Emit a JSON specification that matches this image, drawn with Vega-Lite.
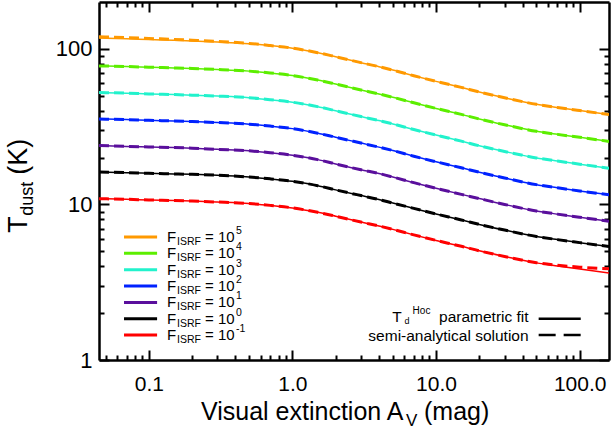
{
"$schema": "https://vega.github.io/schema/vega-lite/v6.json",
"width": 510, "height": 358,
"autosize": {"type": "none"},
"padding": {"left": 99, "top": 2, "right": 4, "bottom": 74},
"background": "white",
"config": {
  "view": {"stroke": null},
  "font": "Liberation Sans",
  "axis": {"grid": false, "domainColor": "black", "domainWidth": 2.5, "tickColor": "black", "tickWidth": 2, "labelColor": "black", "labelFont": "Liberation Sans", "labelFontSize": 21, "labelOverlap": false, "labelFlush": false, "labelBound": false}
},
"datasets": {
  "curves": [
    {"F":"1e5","av":0.045,"fit":117.2,"semi":119.6},{"F":"1e5","av":0.07,"fit":116.0,"semi":118.2},{"F":"1e5","av":0.1,"fit":114.7,"semi":116.6},{"F":"1e5","av":0.15,"fit":113.5,"semi":115.0},{"F":"1e5","av":0.2,"fit":112.5,"semi":113.6},{"F":"1e5","av":0.3,"fit":110.8,"semi":111.6},{"F":"1e5","av":0.5,"fit":108.0,"semi":108.4},{"F":"1e5","av":0.7,"fit":105.0,"semi":105.0},{"F":"1e5","av":1,"fit":101.0,"semi":101.0},{"F":"1e5","av":1.5,"fit":94.5,"semi":94.5},{"F":"1e5","av":2,"fit":89.0,"semi":89.0},{"F":"1e5","av":3,"fit":81.5,"semi":81.5},{"F":"1e5","av":4,"fit":76.8,"semi":76.8},{"F":"1e5","av":5,"fit":73.0,"semi":73.0},{"F":"1e5","av":7,"fit":67.2,"semi":67.2},{"F":"1e5","av":10,"fit":61.8,"semi":61.8},{"F":"1e5","av":15,"fit":56.5,"semi":56.5},{"F":"1e5","av":20,"fit":52.8,"semi":52.8},{"F":"1e5","av":30,"fit":48.5,"semi":48.5},{"F":"1e5","av":50,"fit":44.0,"semi":44.0},{"F":"1e5","av":70,"fit":42.0,"semi":42.0},{"F":"1e5","av":100,"fit":40.1,"semi":40.1},{"F":"1e5","av":160,"fit":37.8,"semi":37.8},
    {"F":"1e4","av":0.045,"fit":77.7,"semi":77.7},{"F":"1e4","av":0.07,"fit":77.0,"semi":77.0},{"F":"1e4","av":0.1,"fit":76.2,"semi":76.2},{"F":"1e4","av":0.15,"fit":75.4,"semi":75.4},{"F":"1e4","av":0.2,"fit":74.8,"semi":74.8},{"F":"1e4","av":0.3,"fit":73.7,"semi":73.7},{"F":"1e4","av":0.5,"fit":71.9,"semi":71.9},{"F":"1e4","av":0.7,"fit":70.0,"semi":70.0},{"F":"1e4","av":1,"fit":67.3,"semi":67.3},{"F":"1e4","av":1.5,"fit":63.0,"semi":63.0},{"F":"1e4","av":2,"fit":59.4,"semi":59.4},{"F":"1e4","av":3,"fit":54.4,"semi":54.4},{"F":"1e4","av":4,"fit":51.3,"semi":51.3},{"F":"1e4","av":5,"fit":48.8,"semi":48.8},{"F":"1e4","av":7,"fit":45.0,"semi":45.0},{"F":"1e4","av":10,"fit":41.4,"semi":41.4},{"F":"1e4","av":15,"fit":37.9,"semi":37.9},{"F":"1e4","av":20,"fit":35.4,"semi":35.4},{"F":"1e4","av":30,"fit":32.5,"semi":32.5},{"F":"1e4","av":50,"fit":29.5,"semi":29.5},{"F":"1e4","av":70,"fit":28.2,"semi":28.2},{"F":"1e4","av":100,"fit":27.0,"semi":27.0},{"F":"1e4","av":160,"fit":25.4,"semi":25.4},
    {"F":"1e3","av":0.045,"fit":52.4,"semi":52.4},{"F":"1e3","av":0.07,"fit":51.9,"semi":51.9},{"F":"1e3","av":0.1,"fit":51.3,"semi":51.3},{"F":"1e3","av":0.15,"fit":50.8,"semi":50.8},{"F":"1e3","av":0.2,"fit":50.4,"semi":50.4},{"F":"1e3","av":0.3,"fit":49.7,"semi":49.7},{"F":"1e3","av":0.5,"fit":48.5,"semi":48.5},{"F":"1e3","av":0.7,"fit":47.1,"semi":47.1},{"F":"1e3","av":1,"fit":45.4,"semi":45.4},{"F":"1e3","av":1.5,"fit":42.5,"semi":42.5},{"F":"1e3","av":2,"fit":40.0,"semi":40.0},{"F":"1e3","av":3,"fit":36.7,"semi":36.7},{"F":"1e3","av":4,"fit":34.6,"semi":34.6},{"F":"1e3","av":5,"fit":32.9,"semi":32.9},{"F":"1e3","av":7,"fit":30.3,"semi":30.3},{"F":"1e3","av":10,"fit":27.9,"semi":27.9},{"F":"1e3","av":15,"fit":25.5,"semi":25.5},{"F":"1e3","av":20,"fit":23.8,"semi":23.8},{"F":"1e3","av":30,"fit":21.9,"semi":21.9},{"F":"1e3","av":50,"fit":19.9,"semi":19.9},{"F":"1e3","av":70,"fit":19.0,"semi":19.0},{"F":"1e3","av":100,"fit":18.15,"semi":18.15},{"F":"1e3","av":160,"fit":17.1,"semi":17.1},
    {"F":"1e2","av":0.045,"fit":35.4,"semi":35.4},{"F":"1e2","av":0.07,"fit":35.1,"semi":35.1},{"F":"1e2","av":0.1,"fit":34.7,"semi":34.7},{"F":"1e2","av":0.15,"fit":34.4,"semi":34.4},{"F":"1e2","av":0.2,"fit":34.1,"semi":34.1},{"F":"1e2","av":0.3,"fit":33.6,"semi":33.6},{"F":"1e2","av":0.5,"fit":32.8,"semi":32.8},{"F":"1e2","av":0.7,"fit":31.9,"semi":31.9},{"F":"1e2","av":1,"fit":30.7,"semi":30.7},{"F":"1e2","av":1.5,"fit":28.7,"semi":28.7},{"F":"1e2","av":2,"fit":27.0,"semi":27.0},{"F":"1e2","av":3,"fit":24.8,"semi":24.8},{"F":"1e2","av":4,"fit":23.35,"semi":23.35},{"F":"1e2","av":5,"fit":22.2,"semi":22.2},{"F":"1e2","av":7,"fit":20.4,"semi":20.4},{"F":"1e2","av":10,"fit":18.8,"semi":18.8},{"F":"1e2","av":15,"fit":17.2,"semi":17.2},{"F":"1e2","av":20,"fit":16.1,"semi":16.1},{"F":"1e2","av":30,"fit":14.8,"semi":14.8},{"F":"1e2","av":50,"fit":13.4,"semi":13.4},{"F":"1e2","av":70,"fit":12.8,"semi":12.8},{"F":"1e2","av":100,"fit":12.2,"semi":12.2},{"F":"1e2","av":160,"fit":11.55,"semi":11.55},
    {"F":"1e1","av":0.045,"fit":23.9,"semi":23.9},{"F":"1e1","av":0.07,"fit":23.6,"semi":23.6},{"F":"1e1","av":0.1,"fit":23.4,"semi":23.4},{"F":"1e1","av":0.15,"fit":23.2,"semi":23.2},{"F":"1e1","av":0.2,"fit":23.0,"semi":23.0},{"F":"1e1","av":0.3,"fit":22.6,"semi":22.6},{"F":"1e1","av":0.5,"fit":22.1,"semi":22.1},{"F":"1e1","av":0.7,"fit":21.5,"semi":21.5},{"F":"1e1","av":1,"fit":20.7,"semi":20.7},{"F":"1e1","av":1.5,"fit":19.4,"semi":19.4},{"F":"1e1","av":2,"fit":18.2,"semi":18.2},{"F":"1e1","av":3,"fit":16.7,"semi":16.7},{"F":"1e1","av":4,"fit":15.8,"semi":15.8},{"F":"1e1","av":5,"fit":15.0,"semi":15.0},{"F":"1e1","av":7,"fit":13.8,"semi":13.8},{"F":"1e1","av":10,"fit":12.7,"semi":12.7},{"F":"1e1","av":15,"fit":11.6,"semi":11.6},{"F":"1e1","av":20,"fit":10.9,"semi":10.9},{"F":"1e1","av":30,"fit":10.0,"semi":10.0},{"F":"1e1","av":50,"fit":9.07,"semi":9.07},{"F":"1e1","av":70,"fit":8.66,"semi":8.66},{"F":"1e1","av":100,"fit":8.27,"semi":8.27},{"F":"1e1","av":160,"fit":7.8,"semi":7.8},
    {"F":"1e0","av":0.045,"fit":16.15,"semi":16.15},{"F":"1e0","av":0.07,"fit":16.0,"semi":16.0},{"F":"1e0","av":0.1,"fit":15.85,"semi":15.85},{"F":"1e0","av":0.15,"fit":15.7,"semi":15.7},{"F":"1e0","av":0.2,"fit":15.6,"semi":15.6},{"F":"1e0","av":0.3,"fit":15.4,"semi":15.4},{"F":"1e0","av":0.5,"fit":15.0,"semi":15.0},{"F":"1e0","av":0.7,"fit":14.6,"semi":14.6},{"F":"1e0","av":1,"fit":14.07,"semi":14.07},{"F":"1e0","av":1.5,"fit":13.2,"semi":13.2},{"F":"1e0","av":2,"fit":12.4,"semi":12.4},{"F":"1e0","av":3,"fit":11.4,"semi":11.4},{"F":"1e0","av":4,"fit":10.75,"semi":10.75},{"F":"1e0","av":5,"fit":10.2,"semi":10.2},{"F":"1e0","av":7,"fit":9.43,"semi":9.43},{"F":"1e0","av":10,"fit":8.68,"semi":8.68},{"F":"1e0","av":15,"fit":7.95,"semi":7.95},{"F":"1e0","av":20,"fit":7.44,"semi":7.44},{"F":"1e0","av":30,"fit":6.84,"semi":6.84},{"F":"1e0","av":50,"fit":6.22,"semi":6.22},{"F":"1e0","av":70,"fit":5.94,"semi":5.94},{"F":"1e0","av":100,"fit":5.68,"semi":5.68},{"F":"1e0","av":160,"fit":5.36,"semi":5.36},
    {"F":"1e-1","av":0.045,"fit":10.88,"semi":10.88},{"F":"1e-1","av":0.07,"fit":10.79,"semi":10.79},{"F":"1e-1","av":0.1,"fit":10.68,"semi":10.68},{"F":"1e-1","av":0.15,"fit":10.59,"semi":10.59},{"F":"1e-1","av":0.2,"fit":10.51,"semi":10.51},{"F":"1e-1","av":0.3,"fit":10.36,"semi":10.36},{"F":"1e-1","av":0.5,"fit":10.13,"semi":10.13},{"F":"1e-1","av":0.7,"fit":9.86,"semi":9.86},{"F":"1e-1","av":1,"fit":9.5,"semi":9.5},{"F":"1e-1","av":1.5,"fit":8.9,"semi":8.9},{"F":"1e-1","av":2,"fit":8.4,"semi":8.4},{"F":"1e-1","av":3,"fit":7.7,"semi":7.7},{"F":"1e-1","av":4,"fit":7.27,"semi":7.27},{"F":"1e-1","av":5,"fit":6.91,"semi":6.91},{"F":"1e-1","av":7,"fit":6.37,"semi":6.37},{"F":"1e-1","av":10,"fit":5.87,"semi":5.87},{"F":"1e-1","av":15,"fit":5.38,"semi":5.38},{"F":"1e-1","av":20,"fit":5.03,"semi":5.03},{"F":"1e-1","av":30,"fit":4.63,"semi":4.63},{"F":"1e-1","av":50,"fit":4.21,"semi":4.22},{"F":"1e-1","av":70,"fit":4.02,"semi":4.07},{"F":"1e-1","av":100,"fit":3.84,"semi":3.95},{"F":"1e-1","av":160,"fit":3.63,"semi":3.86}
  ],
  "leg": [
    {"F":"1e5","exp":"5"},{"F":"1e4","exp":"4"},{"F":"1e3","exp":"3"},{"F":"1e2","exp":"2"},{"F":"1e1","exp":"1"},{"F":"1e0","exp":"0"},{"F":"1e-1","exp":"-1"}
  ],
  "leg2": [
    {"F":"1e0","kind":"fit"},{"F":"1e-1","kind":"semi"}
  ]
},
"layer": [
  {
    "layer": [
      {
        "data": {"name": "curves"},
        "mark": {"type": "line", "strokeWidth": 1.5, "interpolate": "monotone", "clip": true},
        "encoding": {
          "x": {"field": "av", "type": "quantitative", "scale": {"type": "log", "domain": [0.045, 160], "nice": false},
                "axis": {"orient": "bottom", "title": null, "values": [0.05,0.06,0.07,0.08,0.09,0.1,0.2,0.3,0.4,0.5,0.6,0.7,0.8,0.9,1,2,3,4,5,6,7,8,9,10,20,30,40,50,60,70,80,90,100],
                         "labelExpr": "datum.value == 0.1 ? '0.1' : datum.value == 1 ? '1.0' : datum.value == 10 ? '10.0' : datum.value == 100 ? '100.0' : ''",
                         "tickSize": {"condition": {"test": "datum.value == 0.1 || datum.value == 1 || datum.value == 10 || datum.value == 100", "value": -10}, "value": -5},
                         "labelPadding": 23}},
          "y": {"field": "fit", "type": "quantitative", "scale": {"type": "log", "domain": [1, 200], "nice": false},
                "axis": {"orient": "left", "title": null, "values": [1,2,3,4,5,6,7,8,9,10,20,30,40,50,60,70,80,90,100],
                         "labelExpr": "datum.value == 1 ? '1' : datum.value == 10 ? '10' : datum.value == 100 ? '100' : ''",
                         "tickSize": {"condition": {"test": "datum.value == 1 || datum.value == 10 || datum.value == 100", "value": -10}, "value": -5},
                         "labelPadding": 17, "labelFontSize": 22}},
          "color": {"field": "F", "type": "nominal", "scale": {"domain": ["1e5","1e4","1e3","1e2","1e1","1e0","1e-1"], "range": ["#ff9900","#5cee00","#22f2cc","#0022ff","#5a0f9c","#000000","#ff0000"]}, "legend": null}
        }
      },
      {
        "data": {"name": "curves"},
        "mark": {"type": "line", "strokeWidth": 3, "strokeDash": [10, 5], "interpolate": "monotone", "clip": true},
        "encoding": {
          "x": {"field": "av", "type": "quantitative", "scale": {"type": "log", "domain": [0.045, 160], "nice": false},
                "axis": {"orient": "top", "title": null, "labels": false, "values": [0.05,0.06,0.07,0.08,0.09,0.1,0.2,0.3,0.4,0.5,0.6,0.7,0.8,0.9,1,2,3,4,5,6,7,8,9,10,20,30,40,50,60,70,80,90,100],
                         "tickSize": {"condition": {"test": "datum.value == 0.1 || datum.value == 1 || datum.value == 10 || datum.value == 100", "value": -10}, "value": -5}}},
          "y": {"field": "semi", "type": "quantitative", "scale": {"type": "log", "domain": [1, 200], "nice": false},
                "axis": {"orient": "right", "title": null, "labels": false, "values": [1,2,3,4,5,6,7,8,9,10,20,30,40,50,60,70,80,90,100],
                         "tickSize": {"condition": {"test": "datum.value == 1 || datum.value == 10 || datum.value == 100", "value": -10}, "value": -5}}},
          "color": {"field": "F", "type": "nominal", "legend": null}
        }
      },
      {
        "data": {"values": [{}]},
        "mark": {"type": "text", "text": "Visual extinction A", "align": "left", "baseline": "alphabetic", "fontSize": 25, "color": "black"},
        "encoding": {"x": {"datum": 0.2309, "type": "quantitative", "axis": null}, "y": {"datum": 0.4114, "type": "quantitative", "axis": null}}
      },
      {
        "data": {"values": [{}]},
        "mark": {"type": "text", "text": "V", "align": "left", "baseline": "alphabetic", "fontSize": 17, "dx": 205, "dy": 6, "color": "black"},
        "encoding": {"x": {"datum": 0.2309, "type": "quantitative", "axis": null}, "y": {"datum": 0.4114, "type": "quantitative", "axis": null}}
      },
      {
        "data": {"values": [{}]},
        "mark": {"type": "text", "text": "(mag)", "align": "left", "baseline": "alphabetic", "fontSize": 25, "dx": 223, "color": "black"},
        "encoding": {"x": {"datum": 0.2309, "type": "quantitative", "axis": null}, "y": {"datum": 0.4114, "type": "quantitative", "axis": null}}
      },
      {
        "data": {"values": [{}]},
        "mark": {"type": "text", "text": "T", "align": "left", "baseline": "alphabetic", "angle": 270, "fontSize": 27, "color": "black"},
        "encoding": {"x": {"datum": 0.01416, "type": "quantitative", "axis": null}, "y": {"datum": 6.57, "type": "quantitative", "axis": null}}
      },
      {
        "data": {"values": [{}]},
        "mark": {"type": "text", "text": "dust", "align": "left", "baseline": "alphabetic", "angle": 270, "fontSize": 18, "dx": 17, "dy": 6, "color": "black"},
        "encoding": {"x": {"datum": 0.01416, "type": "quantitative", "axis": null}, "y": {"datum": 6.57, "type": "quantitative", "axis": null}}
      },
      {
        "data": {"values": [{}]},
        "mark": {"type": "text", "text": "(K)", "align": "left", "baseline": "alphabetic", "angle": 270, "fontSize": 27, "dx": 58, "color": "black"},
        "encoding": {"x": {"datum": 0.01416, "type": "quantitative", "axis": null}, "y": {"datum": 6.57, "type": "quantitative", "axis": null}}
      }
    ],
    "resolve": {"axis": {"x": "independent", "y": "independent"}}
  },
  {
    "layer": [
      {
        "data": {"name": "leg"},
        "mark": {"type": "rule", "strokeWidth": 3},
        "encoding": {
          "x": {"datum": 0.0672, "type": "quantitative", "axis": null},
          "x2": {"datum": 0.1142},
          "y": {"field": "F", "type": "ordinal", "scale": {"type": "point", "domain": ["1e5","1e4","1e3","1e2","1e1","1e0","1e-1"], "range": [235, 333.1], "padding": 0}, "axis": null},
          "color": {"field": "F", "type": "nominal", "legend": null}
        }
      },
      {
        "data": {"name": "leg"},
        "mark": {"type": "text", "text": "F", "align": "left", "baseline": "middle", "fontSize": 15, "color": "black"},
        "encoding": {"x": {"datum": 0.134, "type": "quantitative", "axis": null}, "y": {"field": "F", "type": "ordinal", "axis": null}}
      },
      {
        "data": {"name": "leg"},
        "mark": {"type": "text", "text": "ISRF", "align": "left", "baseline": "middle", "fontSize": 10.5, "dx": 10, "dy": 5, "color": "black"},
        "encoding": {"x": {"datum": 0.134, "type": "quantitative", "axis": null}, "y": {"field": "F", "type": "ordinal", "axis": null}}
      },
      {
        "data": {"name": "leg"},
        "mark": {"type": "text", "text": "= 10", "align": "left", "baseline": "middle", "fontSize": 15, "dx": 38, "color": "black"},
        "encoding": {"x": {"datum": 0.134, "type": "quantitative", "axis": null}, "y": {"field": "F", "type": "ordinal", "axis": null}}
      },
      {
        "data": {"name": "leg"},
        "mark": {"type": "text", "align": "left", "baseline": "middle", "fontSize": 10.5, "dx": 69, "dy": -6, "color": "black"},
        "encoding": {"x": {"datum": 0.134, "type": "quantitative", "axis": null}, "y": {"field": "F", "type": "ordinal", "axis": null}, "text": {"field": "exp"}}
      },
      {
        "data": {"name": "leg2"},
        "transform": [{"filter": "datum.kind == 'fit'"}],
        "mark": {"type": "rule", "strokeWidth": 2.5, "color": "black"},
        "encoding": {"x": {"datum": 51.8, "type": "quantitative", "axis": null}, "x2": {"datum": 101.7}, "y": {"field": "F", "type": "ordinal", "axis": null}}
      },
      {
        "data": {"name": "leg2"},
        "transform": [{"filter": "datum.kind == 'semi'"}],
        "mark": {"type": "rule", "strokeWidth": 2.5, "strokeDash": [17, 8], "color": "black"},
        "encoding": {"x": {"datum": 51.8, "type": "quantitative", "axis": null}, "x2": {"datum": 101.7}, "y": {"field": "F", "type": "ordinal", "axis": null}}
      },
      {
        "data": {"name": "leg2"},
        "transform": [{"filter": "datum.kind == 'fit'"}],
        "mark": {"type": "text", "text": "parametric fit", "align": "right", "baseline": "middle", "fontSize": 15.5, "dy": -2, "color": "black"},
        "encoding": {"x": {"datum": 44.1, "type": "quantitative", "axis": null}, "y": {"field": "F", "type": "ordinal", "axis": null}}
      },
      {
        "data": {"name": "leg2"},
        "transform": [{"filter": "datum.kind == 'fit'"}],
        "mark": {"type": "text", "text": "T", "align": "right", "baseline": "middle", "fontSize": 15.5, "dx": -127, "dy": -2, "color": "black"},
        "encoding": {"x": {"datum": 44.1, "type": "quantitative", "axis": null}, "y": {"field": "F", "type": "ordinal", "axis": null}}
      },
      {
        "data": {"name": "leg2"},
        "transform": [{"filter": "datum.kind == 'fit'"}],
        "mark": {"type": "text", "text": "d", "align": "left", "baseline": "middle", "fontSize": 9, "dx": -124, "dy": 2.5, "color": "black"},
        "encoding": {"x": {"datum": 44.1, "type": "quantitative", "axis": null}, "y": {"field": "F", "type": "ordinal", "axis": null}}
      },
      {
        "data": {"name": "leg2"},
        "transform": [{"filter": "datum.kind == 'fit'"}],
        "mark": {"type": "text", "text": "Hoc", "align": "left", "baseline": "middle", "fontSize": 10, "dx": -116, "dy": -8, "color": "black"},
        "encoding": {"x": {"datum": 44.1, "type": "quantitative", "axis": null}, "y": {"field": "F", "type": "ordinal", "axis": null}}
      },
      {
        "data": {"name": "leg2"},
        "transform": [{"filter": "datum.kind == 'semi'"}],
        "mark": {"type": "text", "text": "semi-analytical solution", "align": "right", "baseline": "middle", "fontSize": 15.5, "dy": 0.5, "color": "black"},
        "encoding": {"x": {"datum": 44.1, "type": "quantitative", "axis": null}, "y": {"field": "F", "type": "ordinal", "axis": null}}
      }
    ]
  }
],
"resolve": {"scale": {"y": "independent"}, "axis": {"x": "independent", "y": "independent"}}
}
